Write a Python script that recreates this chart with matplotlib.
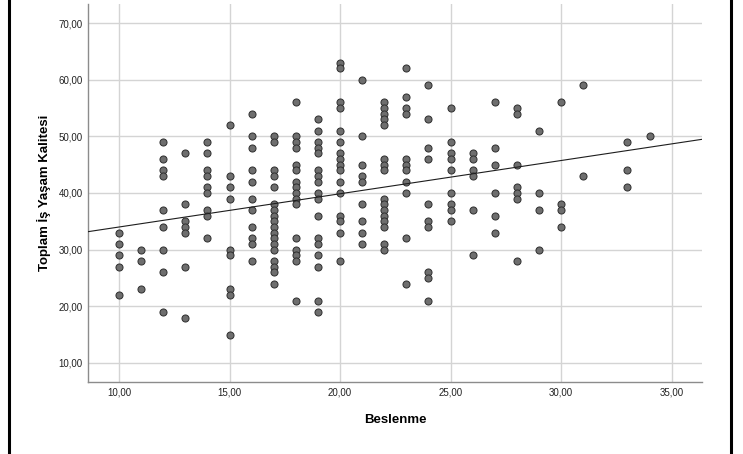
#!/usr/bin/env python3
import numpy as np
import matplotlib
matplotlib.use("Agg")
import matplotlib.pyplot as plt
from matplotlib.lines import Line2D
from matplotlib.ticker import FuncFormatter

# Beslenme score -> observed Toplam İş Yaşam Kalitesi scores
beslenme_10 = [33, 31, 29, 27, 22]
beslenme_11 = [30, 28, 23]
beslenme_12 = [49, 46, 44, 43, 37, 34, 30, 26, 19]
beslenme_13 = [47, 38, 35, 34, 33, 27, 18]
beslenme_14 = [49, 47, 44, 43, 41, 40, 37, 36, 32]
beslenme_15 = [52, 43, 41, 39, 30, 29, 23, 22, 15]
beslenme_16 = [54, 50, 48, 44, 42, 39, 37, 34, 32, 31, 28]
beslenme_17 = [50, 49, 44, 43, 41, 38, 37, 36, 35, 34, 33, 32, 31, 30, 28, 27, 26, 24]
beslenme_18 = [56, 50, 49, 48, 45, 44, 42, 41, 40, 39, 38, 32, 30, 29, 28, 21]
beslenme_19 = [53, 51, 49, 48, 47, 44, 43, 42, 40, 39, 36, 32, 31, 29, 27, 21, 19]
beslenme_20 = [63, 62, 56, 55, 51, 49, 47, 46, 45, 44, 42, 40, 36, 35, 33, 28]
beslenme_21 = [60, 50, 45, 43, 42, 38, 35, 33, 31]
beslenme_22 = [56, 55, 54, 53, 52, 46, 45, 44, 39, 38, 37, 36, 35, 34, 31, 30]
beslenme_23 = [62, 57, 55, 54, 46, 45, 44, 42, 40, 32, 24]
beslenme_24 = [59, 53, 48, 46, 38, 35, 34, 26, 25, 21]
beslenme_25 = [55, 49, 47, 46, 44, 40, 38, 37, 35]
beslenme_26 = [47, 46, 44, 43, 37, 29]
beslenme_27 = [56, 48, 45, 40, 36, 33]
beslenme_28 = [55, 54, 45, 41, 40, 39, 28]
beslenme_29 = [51, 40, 37, 30]
beslenme_30 = [56, 38, 37, 34]
beslenme_31 = [59, 43]
beslenme_33 = [49, 44, 41]
beslenme_34 = [50]

groups = {10: beslenme_10, 11: beslenme_11, 12: beslenme_12, 13: beslenme_13,
          14: beslenme_14, 15: beslenme_15, 16: beslenme_16, 17: beslenme_17,
          18: beslenme_18, 19: beslenme_19, 20: beslenme_20, 21: beslenme_21,
          22: beslenme_22, 23: beslenme_23, 24: beslenme_24, 25: beslenme_25,
          26: beslenme_26, 27: beslenme_27, 28: beslenme_28, 29: beslenme_29,
          30: beslenme_30, 31: beslenme_31, 33: beslenme_33, 34: beslenme_34}

x = np.array([k for k, vals in groups.items() for _ in vals], dtype=float)
y = np.array([v for vals in groups.values() for v in vals], dtype=float)

xlim = (8.6, 36.37)
ylim = (6.64, 73.36)

fig = plt.figure(figsize=(7.43, 4.54), dpi=100)
ax = fig.add_axes([88 / 743, 1 - 382 / 454, 614 / 743, 378 / 454])

# grid behind everything
ax.set_axisbelow(True)
ax.grid(True, color="#d4d4d4", linewidth=1.0)
ax.set_xticks([10, 15, 20, 25, 30, 35])
ax.set_yticks([10, 20, 30, 40, 50, 60, 70])
comma = FuncFormatter(lambda v, p: f"{v:.2f}".replace(".", ","))
ax.xaxis.set_major_formatter(comma)
ax.yaxis.set_major_formatter(comma)
ax.tick_params(length=0, labelsize=7, colors="#222222", pad=4)
for lbl in ax.get_xticklabels() + ax.get_yticklabels():
    lbl.set_family("Liberation Sans")

for s in ("top", "right"):
    ax.spines[s].set_visible(False)
for s in ("left", "bottom"):
    ax.spines[s].set_color("#8c8c8c")
    ax.spines[s].set_linewidth(1.0)

ax.scatter(x, y, s=26, facecolor="#6e6e6e", edgecolor="#2e2e2e",
           linewidth=0.7, zorder=3)

# least squares fit line across the whole x range
slope, intercept = np.polyfit(x, y, 1)
xs = np.array(xlim)
ax.plot(xs, intercept + slope * xs, color="#1e1e1e", linewidth=0.8, zorder=4)

ax.set_xlim(*xlim)
ax.set_ylim(*ylim)

ax.set_xlabel("Beslenme", family="Liberation Sans", fontsize=9.5,
              fontweight="bold", labelpad=12)
ax.set_ylabel("Toplam İş Yaşam Kalitesi", family="Liberation Sans",
              fontsize=9.5, fontweight="bold", labelpad=5)

# black frame edges on the left and right of the page
fig.add_artist(Line2D([8.5 / 743, 8.5 / 743], [0, 1], color="black",
                      linewidth=2.2, transform=fig.transFigure))
fig.add_artist(Line2D([730.5 / 743, 730.5 / 743], [0, 1], color="black",
                      linewidth=2.2, transform=fig.transFigure))

fig.savefig("out.png", dpi=100)
